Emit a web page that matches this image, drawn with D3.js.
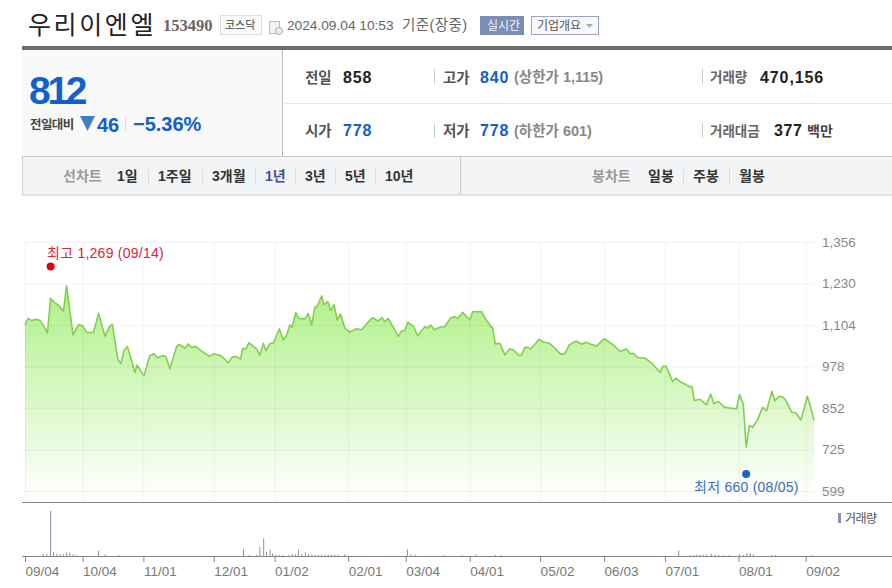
<!DOCTYPE html>
<html>
<head>
<meta charset="utf-8">
<script src="https://d3js.org/d3.v7.min.js"></script>
<style>
  html, body { margin: 0; padding: 0; background: #fff; overflow: hidden; }
  svg { display: block; }
  text { font-family: "Liberation Sans", "Noto Sans CJK KR", sans-serif; }
  .domain { display: none; }
</style>
</head>
<body>
<script>
// trading day counted from 09/04, close price, both
const days = [0,1,2,3.6,4.7,5.7,7,8,9.4,10.4,12,13,15,16.7,18,19.3,21.4,23,25,26.4,27.3,29,30,31,32,34.4,35,37,37.3,39,40.3,41.4,43,44,45.3,47.4,48.2,50,51,52,53.4,55,57.6,59,61,62,63.5,64.8,66,67.4,68,69,70,72.4,73.4,74.5,75.3,76.6,77.6,79.5,80.7,81.8,82.8,
  83.5,84.6,85.6,87.5,88.5,89.6,90.6,91.4,92.7,93.5,94.6,95.6,96.6,97.6,98.6,100,101.5,103.4,105.2,106.5,108.6,110.4,111.6,112.5,113.5,115,116.7,117.7,118.7,119.6,121.5,122.7,125,125.8,126.8,127.9,129.7,131.2,133.1,134.4,135.2,136.8,139,139.9,142.7,143.7,145.6,146.1,147,148.4,150,151.5,152.6,154.4,155.2,156.2,157.3,158,160.7,162.2,164,165.6,167.4,168.7,170.1,172.2,174,175.3,176.6,
  178.7,181,183.9,186,188,189.1,190.1,191.5,193.8,195.9,198.5,199.3,200.4,202.4,203.5,204.7,207.9,208.4,209.2,211,213,214.3,215.3,216.7,218.6,220.4,222.4,223.3,224.5,225.4,226.4,227.4,229,230.5,231.8,233.4,234.4,235.7,237,238,239.6,241,242.5,244.5,245.5,246.6];
const closes = [1104,1124,1117,1121,1117,1104,1079,1185,1170,1165,1146,1223,1074,1104,1102,1081,1081,1139,1070,1099,1106,999,987,1028,1038,959,982,952,952,1010,1016,1004,1010,1008,971,1038,1045,1033,1046,1036,1038,1026,1008,1016,1011,1004,989,1006,1008,1000,1032,1031,1050,1030,1012,1048,1026,1048,1048,1092,1058,1074,1104,
  1097,1141,1124,1122,1139,1104,1158,1162,1192,1165,1175,1148,1165,1119,1137,1094,1082,1092,1089,1104,1126,1116,1126,1114,1124,1099,1069,1086,1086,1112,1099,1071,1099,1094,1104,1089,1097,1099,1126,1129,1124,1142,1119,1144,1144,1126,1099,1097,1046,1048,1013,1031,1028,1011,1013,1035,1036,1030,1060,1051,1048,1033,1015,1016,1043,1055,1045,1051,1046,
  1040,1062,1043,1023,1031,1016,1018,1005,1003,988,959,978,978,932,942,932,915,917,874,878,861,894,864,871,854,851,849,892,864,732,798,793,816,853,843,902,873,887,884,871,839,836,814,887,856,813];

// volume in thousand shares
const volDays = [5.7,6.8,8,8.9,10,11,12,13,14,15,16,23,25,29.4,68.3,70,72.4,73.4,74.6,75.5,76.6,77.4,78.4,79.5,80.5,82.4,83.6,84.5,85.5,86.5,87.6,88.6,89.7,90.7,91.7,92.7,93.8,94.8,95.8,96.8,97.8,99.9,119.5,120.6,121.9,131,136.6,141,147,148.8,204.3,207.9,209,210,211,212,213,214.5,215.7,216.8,218.3,220.1,223.3,224.6,225.6,226.7,227.7,233.4,234.5,246];
const volumes = [230,230,4500,370,230,170,170,330,330,170,100,530,130,100,670,100,100,900,1770,430,670,270,100,100,100,100,170,170,600,200,370,170,130,130,130,130,130,130,130,130,130,170,670,170,130,100,100,170,100,100,530,100,100,130,130,130,130,230,130,100,100,100,170,100,270,270,170,100,100,100];

const yTicks = [599,725,852,978,1104,1230,1356];
const xTickDays = [0,18,37,59,78,101,119,139,161,181,200,223,244];
const xTickLabels = ["09/04","10/04","11/01","12/01","01/02","02/01","03/04","04/01","05/02","06/03","07/01","08/01","09/02"];

const highDay = 8, highValue = 1269, highLabel = "최고 1,269 (09/14)";
const lowDay = 225.4, lowValue = 660, lowLabel = "최저 660 (08/05)";

const w = 892, h = 588;
const blue = "#1160cc";

const svg = d3.select("body").append("svg").attr("width", w).attr("height", h);

function label(str, x, y, size, color, weight) {
  return svg.append("text").attr("x", x).attr("y", y)
    .attr("font-size", size).attr("fill", color)
    .attr("font-weight", weight || "normal").text(str);
}
function box(x, y, width, height, fill, stroke) {
  return svg.append("rect").attr("x", x).attr("y", y).attr("width", width).attr("height", height)
    .attr("fill", fill).attr("stroke", stroke || "none");
}
function vline(x, y1, y2, color) {
  svg.append("line").attr("x1", x).attr("x2", x).attr("y1", y1).attr("y2", y2).attr("stroke", color);
}

// ---- title row
label("우리이엔엘", 28, 34, 25, "#222").attr("letter-spacing", 2.6);
label("153490", 163, 31, 16.5, "#666", "bold").style("font-family", "'Liberation Serif', serif");
box(220.5, 15.5, 41, 19, "#fafafa", "#ddd");
label("코스닥", 225, 29, 11, "#444");
box(269.5, 21.5, 10, 12, "#f3f3f3", "#bbb");
svg.append("circle").attr("cx", 279).attr("cy", 31).attr("r", 3.5).attr("fill", "#eee").attr("stroke", "#aaa");
label("2024.09.04 10:53", 287, 30, 13.7, "#666");
label("기준(장중)", 402, 30, 14.5, "#666").attr("letter-spacing", 0.4);
box(480, 16, 44, 19, "#7b8db5");
label("실시간", 487, 30, 12, "#f2f4fa");
box(531.5, 16.5, 67, 18, "#f8f9fc", "#9aa5c5");
label("기업개요", 537, 30, 12, "#555");
svg.append("path").attr("d", "M586,24h7l-3.5,4z").attr("fill", "#aaa");

// ---- quote panel
box(22, 46, 870, 4, "#6f6f6f");
box(22, 50, 260, 106, "#f9f9f9");
vline(282.5, 50, 156, "#bbb");
svg.append("line").attr("x1", 285).attr("x2", w).attr("y1", 103.5).attr("y2", 103.5).attr("stroke", "#e6e6e6");

label("812", 29, 104, 39, blue, "bold").attr("letter-spacing", -3.3);
label("전일대비", 30, 129, 12.5, "#444", "bold").attr("letter-spacing", -0.6);
svg.append("path").attr("d", "M80,116h15l-7.5,15z").attr("fill", "#3f7fc5");
label("46", 97, 132, 20, blue, "bold");
vline(125.5, 117, 131, "#ddd");
label("−5.36%", 133, 131, 20, blue, "bold");

label("전일", 305, 83, 14.5, "#555", "bold");
label("858", 343, 83, 16, "#222", "bold").attr("letter-spacing", 0.8);
vline(434.5, 69, 84, "#ccc");
label("고가", 443, 83, 14.5, "#555", "bold");
label("840", 480, 83, 16, blue, "bold").attr("letter-spacing", 0.8);
label("(상한가 1,115)", 514, 82, 14.5, "#888", "bold");
vline(702.5, 69, 84, "#ccc");
label("거래량", 710, 82, 13.5, "#666", "bold");
label("470,156", 760, 83, 16, "#222", "bold").attr("letter-spacing", 0.9);

label("시가", 305, 136, 14.5, "#555", "bold");
label("778", 343, 136, 16, blue, "bold").attr("letter-spacing", 0.8);
vline(434.5, 123, 138, "#ccc");
label("저가", 443, 136, 14.5, "#555", "bold");
label("778", 480, 136, 16, blue, "bold").attr("letter-spacing", 0.8);
label("(하한가 601)", 514, 136, 14.5, "#888", "bold");
vline(702.5, 123, 138, "#ccc");
label("거래대금", 710, 136, 13.5, "#666", "bold");
label("377", 774, 136, 16, "#222", "bold").attr("letter-spacing", 0.6);
label("백만", 807, 136, 14, "#444", "bold");

// ---- chart type bar
box(22.5, 156.5, 870, 38.5, "#f3f4f6", "#ccc");
vline(460.5, 157, 195, "#ccc");
label("선차트", 63, 181, 14, "#999", "bold");
const lineTabs = ["1일","1주일","3개월","1년","3년","5년","10년"];
const lineTabX = [117,158,212,265,305,345,385];
lineTabs.forEach((t, i) => {
  label(t, lineTabX[i], 181, 14, t == "1년" ? "#3d4fa0" : "#333", "bold");
  if (i > 0) vline(lineTabX[i] - 9.5, 169, 184, "#ddd");
});
label("봉차트", 592, 181, 14, "#999", "bold");
const candleTabs = ["일봉","주봉","월봉"];
const candleTabX = [648,693,739];
candleTabs.forEach((t, i) => {
  label(t, candleTabX[i], 181, 14, "#333", "bold");
  if (i > 0) vline(candleTabX[i] - 9.5, 169, 184, "#ddd");
});

// ---- price chart
const plotBottom = 502;
const x = d3.scaleLinear().domain([0, 246.6]).range([25, 814]);
const y = d3.scaleLinear().domain([599, 1356]).range([491, 242]);
const points = days.map((d, i) => [d, closes[i]]);

const grad = svg.append("defs").append("linearGradient").attr("id", "areaFill")
  .attr("gradientUnits", "userSpaceOnUse")
  .attr("x1", 0).attr("x2", 0).attr("y1", 285).attr("y2", 498);
grad.append("stop").attr("offset", 0).attr("stop-color", "#aef085");
grad.append("stop").attr("offset", 1).attr("stop-color", "#ffffff");

svg.append("path").datum(points).attr("fill", "url(#areaFill)")
  .attr("d", d3.area().x(d => x(d[0])).y0(plotBottom).y1(d => y(d[1])));

// grid lines sit on top of the area, faint
const yAxis = svg.append("g").attr("transform", "translate(815,0)")
  .call(d3.axisRight(y).tickValues(yTicks).tickSize(-792).tickPadding(7).tickFormat(d3.format(",")));
yAxis.selectAll("line").attr("stroke", "#000").attr("stroke-opacity", 0.05);
yAxis.selectAll("text").attr("font-size", 13.5).attr("fill", "#888").style("font-family", "inherit");

const xGrid = svg.append("g").attr("transform", `translate(0,${plotBottom})`)
  .call(d3.axisBottom(x).tickValues(xTickDays).tickSize(-260).tickFormat(""));
xGrid.selectAll("line").attr("stroke", "#000").attr("stroke-opacity", 0.05);

svg.append("path").datum(points).attr("fill", "none")
  .attr("stroke", "#82cf50").attr("stroke-width", 1.6).attr("stroke-linejoin", "round")
  .attr("d", d3.line().x(d => x(d[0])).y(d => y(d[1])));

// high / low markers, dot sits a few px off the value
svg.append("circle").attr("cx", x(highDay)).attr("cy", y(highValue) - 4).attr("r", 4).attr("fill", "#e60012");
label(highLabel, 47, 258, 14, "#d9263a").attr("letter-spacing", 0.25);
svg.append("circle").attr("cx", x(lowDay)).attr("cy", y(lowValue) + 3).attr("r", 4).attr("fill", "#1a62cc");
label(lowLabel, 694, 492, 14, "#3a6fc0").attr("letter-spacing", 0.25);

svg.append("line").attr("x1", 22).attr("x2", w).attr("y1", 502.5).attr("y2", 502.5)
  .attr("stroke", "#888").attr("stroke-width", 1.2);

// ---- volume
const volBase = 556;
const yVol = d3.scaleLinear().domain([0, 4500]).range([volBase, 511]);

svg.selectAll("rect.vol").data(volumes).enter().append("rect")
  .attr("class", "vol")
  .attr("x", (d, i) => x(volDays[i]) - 0.5)
  .attr("y", d => yVol(d))
  .attr("width", 1)
  .attr("height", d => volBase - yVol(d))
  .attr("fill", d => d > 3000 ? "#8a86c4" : "#8f8f9f");

const xAxis = svg.append("g").attr("transform", `translate(0,${volBase})`)
  .call(d3.axisBottom(x).tickValues(xTickDays).tickSize(6)
    .tickFormat((d, i) => xTickLabels[i]));
xAxis.selectAll("line").attr("stroke", "#888");
xAxis.selectAll("text").attr("font-size", 13.5).attr("fill", "#777")
  .attr("text-anchor", "start").attr("x", 0).attr("y", 20).attr("dy", 0)
  .style("font-family", "inherit");

svg.append("line").attr("x1", 22).attr("x2", w).attr("y1", volBase + 0.5).attr("y2", volBase + 0.5)
  .attr("stroke", "#888");

box(838, 513, 3, 10, "#8f8cc0");
label("거래량", 845, 523, 12, "#555").attr("letter-spacing", -0.5);
</script>
</body>
</html>
